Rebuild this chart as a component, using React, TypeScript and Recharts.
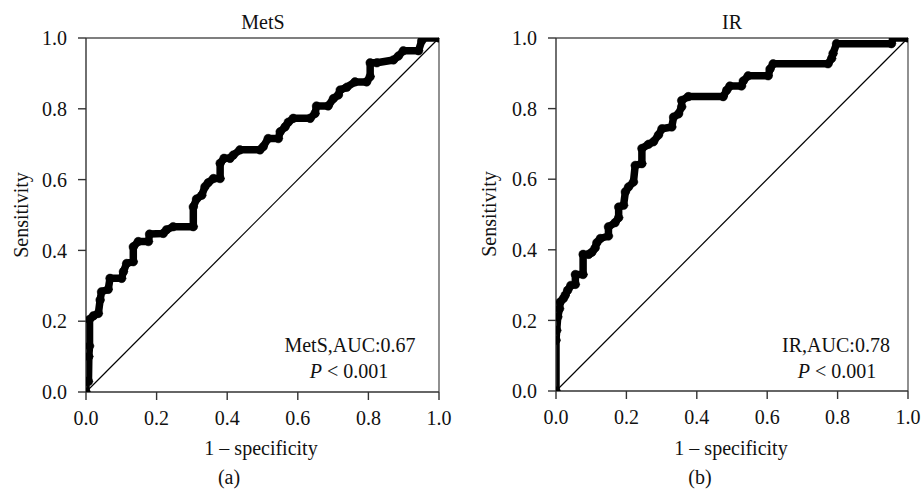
import React from "react";
import { LineChart, Line, XAxis, YAxis, ReferenceLine } from "recharts";

// ROC points: 1 - specificity (x) and sensitivity (y)
const metsFpr = [0, 0, 0.007, 0.008, 0.01, 0.01, 0.021, 0.035, 0.04, 0.044, 0.063, 0.068, 0.101, 0.106, 0.115, 0.134, 0.134, 0.148, 0.177, 0.18, 0.219, 0.228, 0.247, 0.304, 0.304, 0.313, 0.328, 0.337, 0.346, 0.361, 0.38, 0.38, 0.391, 0.408, 0.417, 0.436, 0.493, 0.502, 0.516, 0.545, 0.55, 0.564, 0.573, 0.587, 0.635, 0.649, 0.653, 0.686, 0.701, 0.715, 0.72, 0.739, 0.762, 0.795, 0.805, 0.805, 0.824, 0.871, 0.885, 0.899, 0.942, 0.951, 0.956, 1];
const metsSens = [0, 0.03, 0.03, 0.1, 0.13, 0.205, 0.215, 0.222, 0.26, 0.283, 0.29, 0.321, 0.321, 0.34, 0.363, 0.368, 0.41, 0.425, 0.425, 0.446, 0.448, 0.458, 0.467, 0.467, 0.523, 0.545, 0.556, 0.58, 0.591, 0.603, 0.603, 0.646, 0.66, 0.66, 0.669, 0.684, 0.684, 0.693, 0.716, 0.716, 0.735, 0.749, 0.762, 0.773, 0.773, 0.787, 0.808, 0.808, 0.829, 0.839, 0.853, 0.861, 0.876, 0.876, 0.891, 0.93, 0.93, 0.938, 0.949, 0.964, 0.964, 0.992, 1, 1];

const irFpr = [0, 0, 0.002, 0.005, 0.01, 0.012, 0.021, 0.026, 0.033, 0.042, 0.055, 0.055, 0.077, 0.077, 0.093, 0.102, 0.111, 0.116, 0.126, 0.149, 0.149, 0.168, 0.178, 0.178, 0.192, 0.197, 0.206, 0.22, 0.225, 0.244, 0.244, 0.263, 0.277, 0.291, 0.301, 0.329, 0.334, 0.348, 0.357, 0.357, 0.376, 0.475, 0.485, 0.494, 0.527, 0.532, 0.546, 0.603, 0.608, 0.617, 0.773, 0.783, 0.787, 0.797, 0.953, 0.958, 1];
const irSens = [0, 0.144, 0.172, 0.21, 0.233, 0.252, 0.262, 0.271, 0.285, 0.299, 0.302, 0.33, 0.33, 0.387, 0.387, 0.393, 0.405, 0.42, 0.432, 0.439, 0.465, 0.477, 0.491, 0.521, 0.526, 0.564, 0.578, 0.592, 0.639, 0.644, 0.687, 0.699, 0.706, 0.725, 0.743, 0.748, 0.776, 0.785, 0.805, 0.823, 0.834, 0.834, 0.852, 0.864, 0.864, 0.878, 0.893, 0.893, 0.912, 0.927, 0.927, 0.942, 0.956, 0.984, 0.984, 1, 1];

const axisTicks = [0, 0.2, 0.4, 0.6, 0.8, 1.0];

const FONT = "'Liberation Serif', 'Times New Roman', serif";
const tickStyle = { fontFamily: FONT, fontSize: 20, fill: "#111" };

function toRows(xs: number[], ys: number[]) {
  return xs.map((x, i) => ({ x, y: ys[i] }));
}

function RocPanel({ rows, left, width, yAxisWidth, right, bottom }: any) {
  return (
    <div style={{ position: "absolute", left, top: 0 }}>
      <LineChart
        width={width}
        height={440}
        margin={{ top: 38, right, bottom, left: 0 }}
      >
        <XAxis
          type="number"
          dataKey="x"
          domain={[0, 1]}
          ticks={axisTicks}
          tickFormatter={(v) => v.toFixed(1)}
          tick={tickStyle}
          tickSize={8}
          tickMargin={11}
          height={30}
          stroke="#333"
          strokeWidth={1.4}
          allowDataOverflow
        />
        <YAxis
          type="number"
          dataKey="y"
          domain={[0, 1]}
          ticks={axisTicks}
          tickFormatter={(v) => v.toFixed(1)}
          tick={tickStyle}
          tickSize={8}
          tickMargin={11}
          width={yAxisWidth}
          stroke="#333"
          strokeWidth={1.4}
          allowDataOverflow
        />
        <ReferenceLine y={1} stroke="#555" strokeWidth={1.3} />
        <ReferenceLine x={1} stroke="#555" strokeWidth={1.3} />
        <ReferenceLine
          segment={[{ x: 0, y: 0 }, { x: 1, y: 1 }]}
          stroke="#000"
          strokeWidth={1.2}
        />
        <Line
          data={rows}
          dataKey="y"
          type="linear"
          stroke="#000"
          strokeWidth={7.5}
          strokeLinejoin="round"
          strokeLinecap="round"
          dot={{ r: 4.3, fill: "#000", stroke: "#000", strokeWidth: 0.5 }}
          isAnimationActive={false}
        />
      </LineChart>
    </div>
  );
}

export default function App() {
  const txt = { fontFamily: FONT, fontSize: 20, fill: "#111" };
  return (
    <div style={{ position: "absolute", left: 0, top: 0, width: 923, height: 498, background: "#fff" }}>
      <RocPanel rows={toRows(metsFpr, metsSens)} left={0} width={460} yAxisWidth={86} right={21} bottom={18} />
      <RocPanel rows={toRows(irFpr, irSens)} left={460} width={463} yAxisWidth={96} right={15} bottom={19} />

      <svg width={923} height={498} style={{ position: "absolute", left: 0, top: 0, pointerEvents: "none" }}>
        <text x={263} y={29} textAnchor="middle" style={txt}>MetS</text>
        <text x={732} y={29} textAnchor="middle" style={txt}>IR</text>

        <text transform="translate(28,215) rotate(-90)" textAnchor="middle" style={txt}>Sensitivity</text>
        <text transform="translate(496,214) rotate(-90)" textAnchor="middle" style={txt}>Sensitivity</text>

        <text x={261} y={455} textAnchor="middle" style={txt}>1 – specificity</text>
        <text x={731} y={455} textAnchor="middle" style={txt}>1 – specificity</text>

        <text x={229} y={484} textAnchor="middle" style={txt}>(a)</text>
        <text x={700} y={484} textAnchor="middle" style={txt}>(b)</text>

        <text x={350} y={352} textAnchor="middle" style={txt}>MetS,AUC:0.67</text>
        <text x={349} y={378} textAnchor="middle" style={txt}>
          <tspan fontStyle="italic">P</tspan> &lt; 0.001
        </text>

        <text x={836} y={352} textAnchor="middle" style={txt}>IR,AUC:0.78</text>
        <text x={837} y={378} textAnchor="middle" style={txt}>
          <tspan fontStyle="italic">P</tspan> &lt; 0.001
        </text>
      </svg>
    </div>
  );
}
